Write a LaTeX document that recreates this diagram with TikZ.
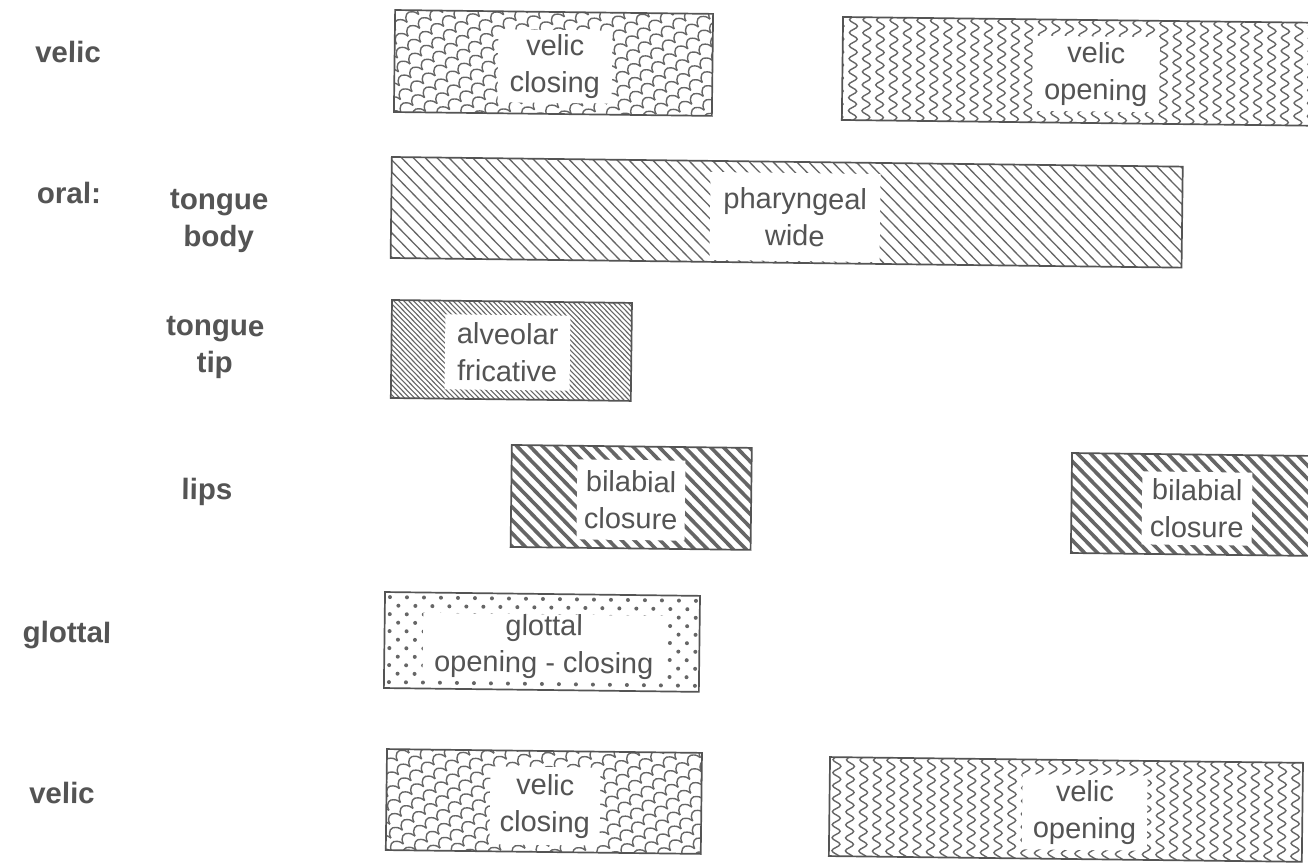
\documentclass[tikz,border=0pt]{standalone}
\usepackage{fontspec}
\setmainfont{Liberation Sans}
\usetikzlibrary{decorations.pathmorphing}
\definecolor{ink}{gray}{0.33}
\definecolor{patgray}{gray}{0.40}

% diagonal "\" lines: #1 spacing, #2 line width, #3 W, #4 H
\newcommand\PatDiag[4]{%
  \pgfmathtruncatemacro\nA{(#3/2+#4/2)/#1+2}%
  \pgfmathtruncatemacro\nB{-\nA}%
  \foreach \k in {\nB,...,\nA}{\draw[patgray, line width=#2] ({\k*#1-#4/2-2},{-#4/2-2}) -- ++({#4+4},{#4+4});}}
% vertical wavy lines
\newcommand\PatWave[2]{%
  \pgfmathtruncatemacro\nA{#1/2/13.5+1}%
  \pgfmathtruncatemacro\nB{-\nA}%
  \foreach \k in {\nB,...,\nA}{\draw[patgray, line width=1.4pt, decorate, decoration={snake, segment length=13pt, amplitude=4pt}] ({\k*13.5},{-#2/2-8}) -- ({\k*13.5},{#2/2+8});}}
% tilted fish scales
\newcommand\PatScale[2]{%
  \begin{scope}[rotate=35]
  \pgfmathtruncatemacro\nR{(#1+#2)/2/12+1}%
  \pgfmathtruncatemacro\nRb{-\nR}%
  \pgfmathtruncatemacro\nC{(#1+#2)/2/14+1}%
  \pgfmathtruncatemacro\nCb{-\nC}%
  \foreach \r in {\nRb,...,\nR}{\foreach \c in {\nCb,...,\nC}{%
    \pgfmathsetmacro\xx{\c*14+mod(\r,2)*7}%
    \pgfmathsetmacro\yy{\r*12}%
    \draw[patgray, line width=1.4pt] (\xx,\yy+4) .. controls (\xx+1,\yy-4) and (\xx+7,\yy-5) .. (\xx+10,\yy-2) .. controls (\xx+13,\yy) and (\xx+13,\yy+2) .. (\xx+14,\yy+4);}}
  \end{scope}}
% dots
\newcommand\PatDots[2]{%
  \pgfmathtruncatemacro\nR{#2/8.5+1}%
  \pgfmathtruncatemacro\nC{#1/17+1}%
  \foreach \r in {0,...,\nR}{\foreach \c in {0,...,\nC}{%
    \fill[patgray] ({-#1/2+5+\c*17+mod(\r,2)*8.5},{-#2/2+5+\r*8.5}) circle (2pt);}}}

% #1 name, #2 centre, #3 W, #4 H, #5 pattern, #6 label offset, #7 label w, #8 label h, #9 text
\newcommand\Gbox[9]{%
  \begin{scope}[shift={#2}]
    \begin{scope}
      \clip (-#3/2,-#4/2) -- (#3/2,-#4/2) -- (#3/2,#4/2) -- (-#3/2,#4/2) -- cycle;
      #5{#3}{#4}
    \end{scope}
    \node[gframe, minimum width=#3pt, minimum height=#4pt] (#1) at (0,0) {};
    \node[glabel, minimum width=#7pt, minimum height=#8pt] (#1-t) at #6 {#9};
  \end{scope}}

\tikzset{
  gframe/.style={draw=ink, line width=1.7pt, inner sep=0pt, outer sep=0pt},
  glabel/.style={fill=white, inner sep=0pt, align=center, text=ink, font=\fontsize{29}{37}\selectfont},
  lbl/.style={text=ink, inner sep=0pt, align=center, font=\bfseries\fontsize{29.5}{37}\selectfont}
}

\begin{document}
\begin{tikzpicture}[x=1pt, y=-1pt]
\useasboundingbox (0,0) rectangle (1308,865);
\fill[white] (0,0) rectangle (1308,865);
\clip (0,0) rectangle (1308,865);
\begin{scope}[rotate around={-0.7:(654,432)}, transform shape]
  % left labels
  \node[lbl] (l-velic1) at (63.4,59.1) {velic};
  \node[lbl] (l-oral) at (66.1,200.1) {oral:};
  \node[lbl] (l-body) at (216.4,226.8) {tongue\\body};
  \node[lbl] (l-tip) at (214,352.9) {tongue\\tip};
  \node[lbl] (l-lips) at (207.7,497.5) {lips};
  \node[lbl] (l-glottal) at (69.5,642.2) {glottal};
  \node[lbl] (l-velic2) at (66.4,800.3) {velic};

  \Gbox{vc1}{(549,64.2)}{318}{102}{\PatScale}{(1.5,3.5)}{114}{73}{velic\\closing}
  \Gbox{vo1}{(1078,66.2)}{480}{103}{\PatWave}{(13.6,2.4)}{127}{75}{velic\\opening}
  \Gbox{ph}{(784,210.7)}{791}{101}{\PatDiag{12}{1.3pt}}{(8.4,4.6)}{170}{88}{pharyngeal\\wide}
  \Gbox{al}{(510.4,352.2)}{240}{98}{\PatDiag{5}{1.1pt}}{(-3.9,2.1)}{125}{75}{alveolar\\fricative}
  \Gbox{bl1}{(632,497.7)}{240}{102}{\PatDiag{13}{3.6pt}}{(-0.2,2.6)}{108}{80}{bilabial\\closure}
  \Gbox{bl2}{(1192.3,497.9)}{240}{100}{\PatDiag{13}{3.6pt}}{(5.6,4)}{110}{73}{bilabial\\closure}
  \Gbox{gl}{(544.5,643.3)}{315}{96}{\PatDots}{(2.1,4.5)}{242}{63}{glottal\\opening - closing}
  \Gbox{vc2}{(548.4,802.8)}{315}{101}{\PatScale}{(1.2,4.5)}{110}{78}{velic\\closing}
  \Gbox{vo2}{(1070.5,804.4)}{473}{99}{\PatWave}{(18.8,2.8)}{125}{75}{velic\\opening}
\end{scope}
\end{tikzpicture}
\end{document}
